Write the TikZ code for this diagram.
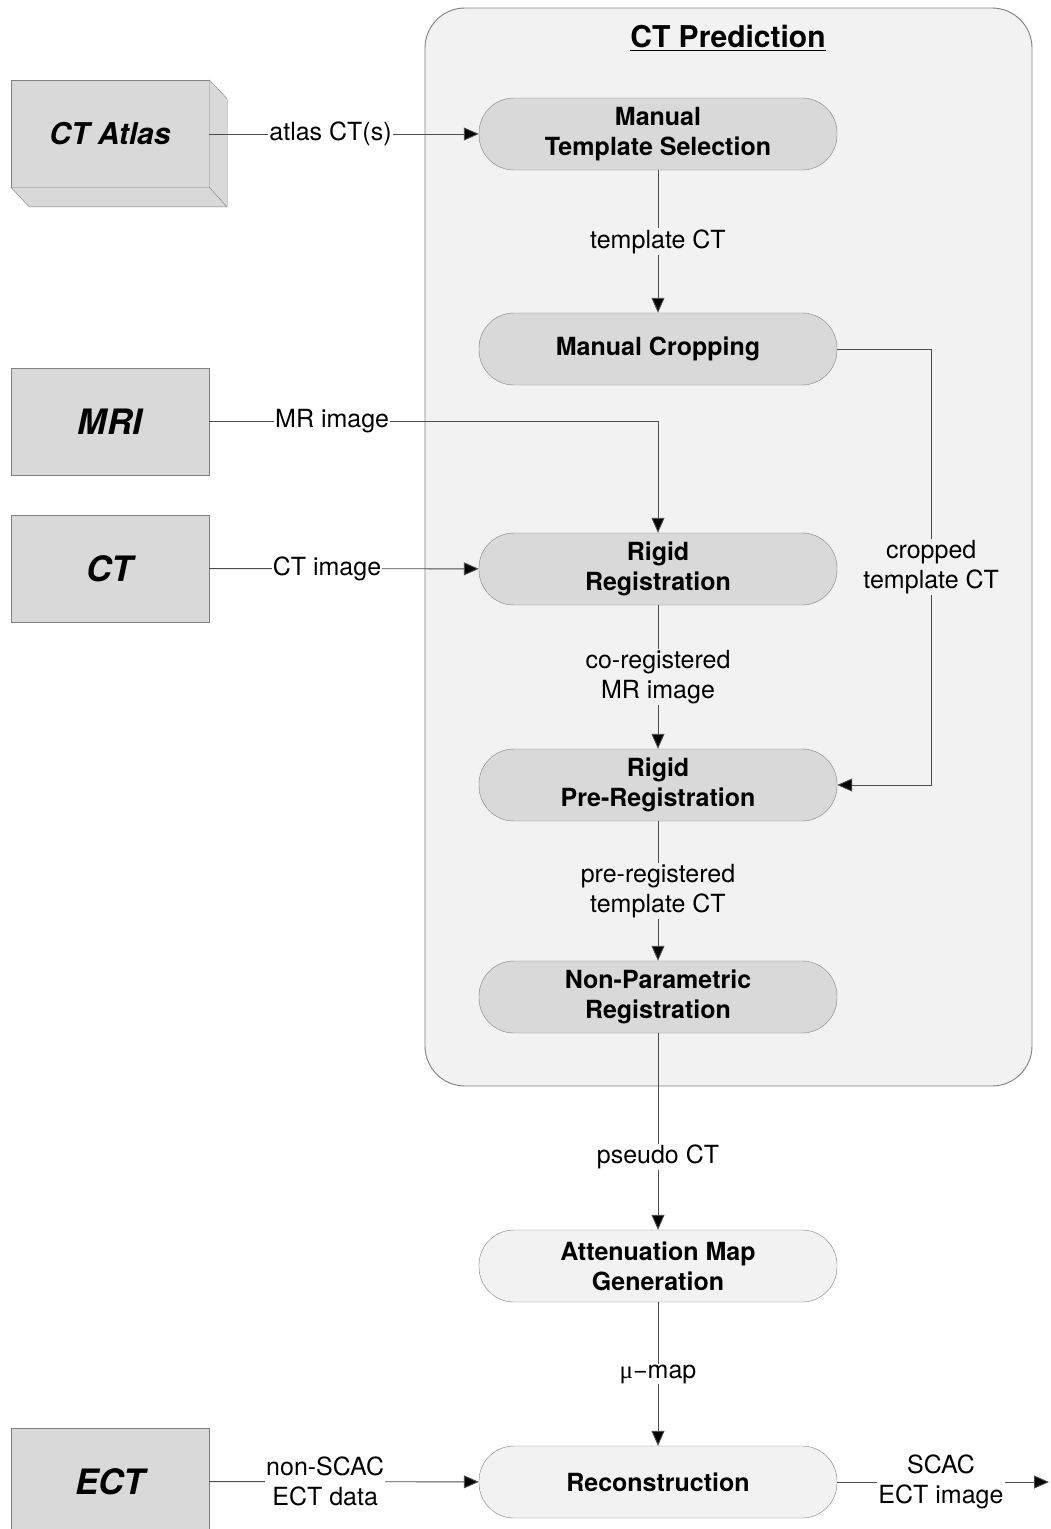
\documentclass[tikz,border=0pt]{standalone}
\usepackage{fontspec}
\setmainfont{TeX Gyre Heros}
\newfontfamily\symfont{Liberation Serif}
\usetikzlibrary{arrows.meta}
\definecolor{panel}{HTML}{F2F2F2}
\definecolor{shade}{HTML}{D9D9D9}
\definecolor{edge}{HTML}{808080}
\definecolor{wire}{HTML}{4D4D4D}
\begin{document}
\begin{tikzpicture}[x=1pt,y=-1pt,
  proc/.style={draw=edge, fill=shade, rounded corners=35pt, minimum width=358pt,
    minimum height=72pt, align=center, inner sep=0pt,
    font=\fontsize{25}{30}\selectfont\bfseries},
  procl/.style={proc, fill=panel},
  src/.style={draw=edge, fill=shade, minimum width=198pt, minimum height=107pt,
    inner sep=0pt, font=\fontsize{35}{40}\selectfont\bfseries\itshape},
  lbl/.style={font=\fontsize{25}{30}\selectfont, align=center, inner sep=1pt, fill=white},
  lbin/.style={lbl, fill=panel},
  link/.style={draw=wire, line width=0.9pt},
  flow/.style={link, -{Triangle[length=15pt,width=13pt,fill=black]}}]

\useasboundingbox (0,0) rectangle (1050,1529);

% CT prediction panel
\draw[edge, fill=panel, rounded corners=40pt, line width=0.9pt] (425,8) rectangle (1032,1086);
\node (title) at (728,38) {\fontsize{30}{36}\selectfont\bfseries\underline{CT Prediction}};

% source boxes
\node[src] (atlas) at (110,133.5) {};
\draw[edge, fill=shade, line join=round]
  (atlas.north east) -- ++(18,19) -- ++(0,108) -- ++(-198,0) -- (atlas.south west) -- (atlas.south east) -- cycle;
\draw[edge] (atlas.south east) -- ++(18,20);
\node[font=\fontsize{30}{36}\selectfont\bfseries\itshape] (atlastxt) at (atlas) {CT Atlas};
\node[src] (mri) at (110,421.5) {MRI};
\node[src] (ct)  at (110,568.5) {CT};
\node[src] (ect) at (110,1481.5) {ECT};

% process steps
\node[proc] (mts) at (658,134) {Manual\\Template Selection};
\node[proc] (mc)  at (658,349) {Manual Cropping};
\node[proc] (rr)  at (658,569) {Rigid\\Registration};
\node[proc] (rpr) at (658,785) {Rigid\\Pre-Registration};
\node[proc] (npr) at (658,997) {Non-Parametric\\Registration};
\node[procl] (amg) at (658,1266) {Attenuation Map\\Generation};
\node[procl] (rec) at (658,1482) {Reconstruction};
\coordinate (out) at (1049,1482);

% data flow
\draw[flow] (atlas.east |- mts) -- node[lbl, pos=0.45] {atlas CT(s)} (mts);
\draw[flow] (mts) -- node[lbin] {template CT} (mc);
\draw[flow] (mc.east) -- ++(94,0) |- node[lbin, pos=0.25] {cropped\\template CT} (rpr.east);
\draw[flow] (mri) -| node[lbl, pos=0.137] {MR image} (rr);
\draw[flow] (ct) -- node[lbl, pos=0.437] {CT image} (rr);
\draw[flow] (rr) -- node[lbin] {co-registered\\MR image} (rpr);
\draw[flow] (rpr) -- node[lbin] {pre-registered\\template CT} (npr);
\draw[flow] (npr) -- node[lbl, pos=0.63] {pseudo CT} (amg);
\draw[flow] (amg) -- node[lbl] {{\symfont μ}−map} (rec);
\draw[flow] (ect) -- node[lbl, pos=0.43] {non-SCAC\\ECT data} (rec);
\draw[flow] (rec) -- node[lbl, pos=0.49] {SCAC\\ECT image} (out);
\end{tikzpicture}
\end{document}
